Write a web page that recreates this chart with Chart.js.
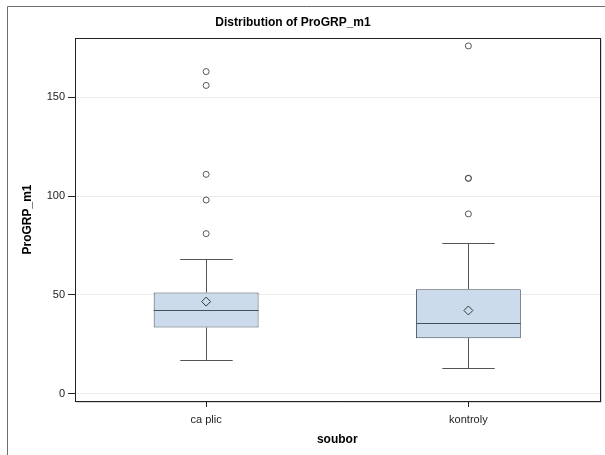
<!DOCTYPE html>
<html>
<head>
<meta charset="utf-8">
<script src="https://cdn.jsdelivr.net/npm/chart.js@4/dist/chart.umd.min.js"></script>
<style>
  html, body { margin: 0; padding: 0; background: #fff; }
  #wrap { width: 605px; height: 455px; position: relative; }
</style>
</head>
<body>
<div id="wrap"><canvas id="c" width="605" height="455"></canvas></div>
<script>
// Box plot summary of ProGRP_m1 per group
const categories = ['ca plic', 'kontroly'];
const q1 = [33.5, 28.1];
const median = [42.3, 36.0];
const q3 = [51.2, 52.9];
const whiskerLow = [17.1, 13.2];
const whiskerHigh = [68.1, 76.2];
const means = [46.6, 42.1];
const outliersCaPlic = [163, 156, 111, 98, 81];
const outliersKontroly = [176, 109, 109, 91];
const yTicks = [0, 50, 100, 150];

const FONT = 'Liberation Sans, Arial, Helvetica, sans-serif';

// Whiskers, caps and median lines drawn on top of the boxes
const boxDetails = {
  id: 'boxDetails',
  afterDatasetsDraw(chart) {
    const { ctx } = chart;
    const y = chart.scales.y;
    const bars = chart.getDatasetMeta(0).data;
    ctx.save();
    ctx.lineWidth = 1;
    categories.forEach((_, i) => {
      const bar = bars[i];
      const cx = Math.round(bar.x) + 0.5;
      const half = bar.width / 2;
      const cap = half / 2;
      const yQ1 = y.getPixelForValue(q1[i]);
      const yQ3 = y.getPixelForValue(q3[i]);
      const yLo = Math.round(y.getPixelForValue(whiskerLow[i])) + 0.5;
      const yHi = Math.round(y.getPixelForValue(whiskerHigh[i])) + 0.5;
      const yMed = Math.round(y.getPixelForValue(median[i])) + 0.5;
      ctx.strokeStyle = '#555';
      ctx.beginPath();
      ctx.moveTo(cx, yQ3); ctx.lineTo(cx, yHi);
      ctx.moveTo(cx - cap, yHi); ctx.lineTo(cx + cap, yHi);
      ctx.moveTo(cx, yQ1); ctx.lineTo(cx, yLo);
      ctx.moveTo(cx - cap, yLo); ctx.lineTo(cx + cap, yLo);
      ctx.stroke();
      ctx.strokeStyle = '#46505a';
      ctx.beginPath();
      ctx.moveTo(bar.x - half, yMed); ctx.lineTo(bar.x + half, yMed);
      ctx.stroke();
    });
    ctx.restore();
  }
};

// Plot frame, category tick marks, page frame and heading
const frame = {
  id: 'frame',
  afterDraw(chart) {
    const { ctx, chartArea: a } = chart;
    const x = chart.scales.x;
    ctx.save();
    ctx.lineWidth = 1;
    ctx.strokeStyle = '#d8d8d8';
    ctx.beginPath();
    ctx.moveTo(Math.round(a.right) + 1.5, a.top + 1);
    ctx.lineTo(Math.round(a.right) + 1.5, Math.round(a.bottom) + 1.5);
    ctx.lineTo(a.left + 1, Math.round(a.bottom) + 1.5);
    ctx.stroke();
    ctx.strokeStyle = '#222';
    ctx.strokeRect(Math.round(a.left) + 0.5, Math.round(a.top) + 0.5,
                   Math.round(a.right - a.left), Math.round(a.bottom - a.top));
    ctx.beginPath();
    categories.forEach((c, i) => {
      const px = Math.round(x.getPixelForValue(i)) + 0.5;
      ctx.moveTo(px, Math.round(a.bottom) + 1);
      ctx.lineTo(px, Math.round(a.bottom) + 6);
    });
    ctx.stroke();
    ctx.strokeStyle = '#6e6e6e';
    ctx.beginPath();
    ctx.moveTo(7.5, 455);
    ctx.lineTo(7.5, 6.5);
    ctx.lineTo(605, 6.5);
    ctx.stroke();
    ctx.fillStyle = '#000';
    ctx.font = 'bold 12px ' + FONT;
    ctx.textAlign = 'center';
    ctx.textBaseline = 'middle';
    ctx.fillText('Distribution of ProGRP_m1', 293, 23);
    ctx.restore();
  }
};

new Chart(document.getElementById('c'), {
  type: 'bar',
  data: {
    labels: categories,
    datasets: [
      {
        label: 'box',
        data: categories.map((_, i) => [q1[i], q3[i]]),
        backgroundColor: '#cbdbec',
        borderColor: '#46505a',
        borderWidth: 1,
        borderSkipped: false,
        barPercentage: 0.4,
        categoryPercentage: 1.0,
        order: 2
      },
      {
        type: 'line',
        label: 'mean',
        data: categories.map((c, i) => ({ x: c, y: means[i] })),
        showLine: false,
        pointStyle: 'rectRot',
        pointRadius: 4.5,
        pointBorderWidth: 1,
        pointBorderColor: '#3a3a3a',
        pointBackgroundColor: 'rgba(0,0,0,0)',
        order: 0
      },
      {
        type: 'line',
        label: 'outliers',
        data: outliersCaPlic.map(v => ({ x: categories[0], y: v }))
          .concat(outliersKontroly.map(v => ({ x: categories[1], y: v }))),
        showLine: false,
        pointStyle: 'circle',
        pointRadius: 3,
        pointBorderWidth: 1,
        pointBorderColor: '#555',
        pointBackgroundColor: 'rgba(0,0,0,0)',
        order: 0
      }
    ]
  },
  options: {
    responsive: false,
    animation: false,
    layout: { padding: { top: 38, right: 5, left: 0, bottom: 0 } },
    plugins: {
      legend: { display: false },
      tooltip: { enabled: false },
      title: { display: false }
    },
    scales: {
      x: {
        type: 'category',
        offset: true,
        grid: { offset: false, drawOnChartArea: false, drawTicks: true, tickLength: 5,
                tickColor: 'rgba(0,0,0,0)', color: 'rgba(0,0,0,0)' },
        border: { color: '#222', width: 1 },
        ticks: { color: '#222', font: { family: FONT, size: 11 }, padding: 7 },
        title: { display: true, text: 'soubor', color: '#000',
                 font: { family: FONT, size: 12, weight: 'bold' }, padding: { top: 0, bottom: 8 } },
        afterFit(s) { s.height = 54; }
      },
      y: {
        type: 'linear',
        min: -3.7,
        max: 180,
        afterBuildTicks(s) { s.ticks = yTicks.map(v => ({ value: v })); },
        grid: { color: '#ebebeb', tickColor: '#222', tickLength: 7, drawTicks: true },
        border: { color: '#222', width: 1 },
        ticks: { color: '#222', font: { family: FONT, size: 11 }, padding: 3 },
        title: { display: true, text: 'ProGRP_m1', color: '#000',
                 font: { family: FONT, size: 12, weight: 'bold' }, padding: { top: 20, bottom: 0 } },
        afterFit(s) { s.width = 75; }
      }
    }
  },
  plugins: [boxDetails, frame]
});
</script>
</body>
</html>
